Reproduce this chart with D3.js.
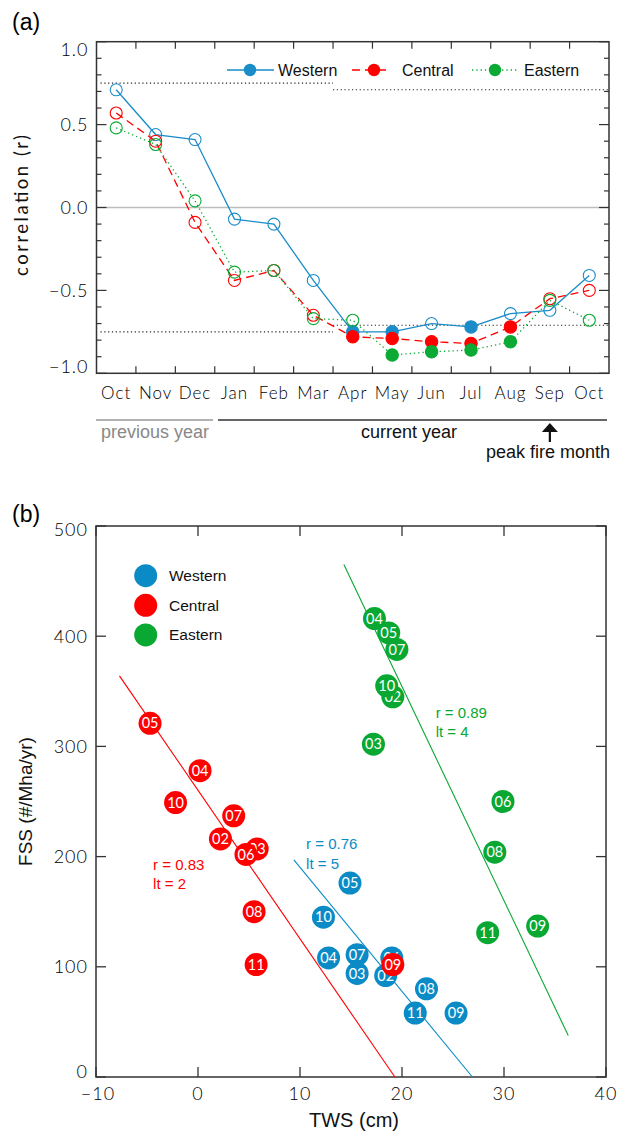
<!DOCTYPE html>
<html><head><meta charset="utf-8">
<script src="https://cdn.jsdelivr.net/npm/d3@7/dist/d3.min.js"></script>
<style>
html,body{margin:0;padding:0;background:#fff;}
svg{display:block;}
.tk{font-family:Lato,"Open Sans",sans-serif;font-weight:300;}
.hv{font-family:"Liberation Sans",Arial,sans-serif;}
</style></head>
<body>
<svg id="c" width="624" height="1133"></svg>
<script>
// ---------- Panel (a) data ----------
const months = ["Oct","Nov","Dec","Jan","Feb","Mar","Apr","May","Jun","Jul","Aug","Sep","Oct"];
const sigLevel = [0.75,0.75,0.75,0.75,0.75,0.75,0.71,0.71,0.71,0.71,0.71,0.71,0.71];
const western = [0.71,0.44,0.41,-0.07,-0.10,-0.44,-0.75,-0.75,-0.70,-0.72,-0.64,-0.62,-0.41];
const central = [0.57,0.40,-0.09,-0.44,-0.38,-0.65,-0.78,-0.79,-0.81,-0.82,-0.72,-0.55,-0.50];
const eastern = [0.48,0.38,0.04,-0.39,-0.38,-0.67,-0.68,-0.89,-0.87,-0.86,-0.81,-0.56,-0.68];
const corrTicks = [-1.0,-0.5,0.0,0.5,1.0];
const peakMonthIndex = 11;

// ---------- Panel (b) data ----------
const regions = ["Western","Central","Eastern"];
const westernYears = ["02","03","04","05","06","07","08","09","10","11"];
const westernTWS = [18.4,15.6,12.8,14.9,19.0,15.6,22.4,25.3,12.3,21.3];
const westernFSS = [92,94,108,176,108,111,80,58,145,58];
const centralYears = ["02","03","04","05","06","07","08","09","10","11"];
const centralTWS = [2.2,5.8,0.2,-4.7,4.7,3.5,5.5,19.1,-2.2,5.7];
const centralFSS = [216,207,278,321,202,237,150,102,249,102];
const easternYears = ["02","03","04","05","06","07","08","09","10","11"];
const easternTWS = [19.1,17.2,17.3,18.7,29.9,19.5,29.1,33.3,18.5,28.4];
const easternFSS = [345,302,416,403,250,388,204,137,355,131];
// fitted lines: [tws0, fss0, tws1, fss1]
const westernFit = [9.4,197,26.9,0];
const centralFit = [-7.7,364,19.3,0];
const easternFit = [14.3,465,36.3,37.6];
const fitR = ["0.76","0.83","0.89"];
const fitLt = ["5","2","4"];
const twsTicks = [-10,0,10,20,30,40];
const fssTicks = [0,100,200,300,400,500];

const colA = {Western:"#1a8cc8", Central:"#ff0000", Eastern:"#0aaa35"};
const colB = {Western:"#0a8bc6", Central:"#ff0000", Eastern:"#08a832"};

const svg = d3.select("#c");

// ================= Panel (a) =================
const ax = {l:96.5, r:609, t:41.7, b:373.3};
const x = d3.scaleBand().domain(d3.range(months.length)).range([ax.l, ax.r]).paddingInner(0).paddingOuter(0);
const xc = i => x(i) + x.bandwidth()/2;
const y = d3.scaleLinear().domain([-1,1]).range([ax.b, ax.t]);
const ga = svg.append("g");

svg.append("text").attr("class","hv").attr("x",12).attr("y",30).attr("font-size",23).attr("fill","#000").text("(a)");

// zero line
ga.append("line").attr("x1",ax.l).attr("x2",ax.r).attr("y1",y(0)).attr("y2",y(0))
  .attr("stroke","#bdbdbd").attr("stroke-width",1.6);

// significance dotted lines
const sigSegs = [];
let s0 = 0;
for (let i=1;i<=sigLevel.length;i++){
  if (i===sigLevel.length || sigLevel[i]!==sigLevel[s0]){ sigSegs.push({a:s0,b:i-1,v:sigLevel[s0]}); s0=i; }
}
sigSegs.forEach((sg,k)=>{
  const x1 = k===0 ? ax.l+4 : x(sg.a);
  const x2 = sg.b===months.length-1 ? ax.r : x(sg.b)+x.bandwidth();
  [1,-1].forEach(sgn=>{
    ga.append("line").attr("x1",x1).attr("x2",x2).attr("y1",y(sgn*sg.v)).attr("y2",y(sgn*sg.v))
      .attr("stroke","#222").attr("stroke-width",1.1).attr("stroke-dasharray","1.2,2.6");
  });
});

// frame
ga.append("rect").attr("x",ax.l).attr("y",ax.t).attr("width",ax.r-ax.l).attr("height",ax.b-ax.t)
  .attr("fill","none").attr("stroke","#333").attr("stroke-width",1.5);

// x ticks at month boundaries (bottom and top)
d3.range(1,months.length).forEach(i=>{
  const xx = x(i);
  ga.append("line").attr("x1",xx).attr("x2",xx).attr("y1",ax.b).attr("y2",ax.b-7).attr("stroke","#333").attr("stroke-width",1.2);
  ga.append("line").attr("x1",xx).attr("x2",xx).attr("y1",ax.t).attr("y2",ax.t+7).attr("stroke","#333").attr("stroke-width",1.2);
});
// y ticks: minor every 0.1, major each label
d3.range(-10,11).forEach(k=>{
  const v = k/10, yy = y(v);
  const major = (k%5===0);
  const len = major?10:5;
  ga.append("line").attr("x1",ax.l).attr("x2",ax.l+len).attr("y1",yy).attr("y2",yy).attr("stroke","#333").attr("stroke-width",1.2);
  ga.append("line").attr("x1",ax.r).attr("x2",ax.r-len).attr("y1",yy).attr("y2",yy).attr("stroke","#333").attr("stroke-width",1.2);
});
// y tick labels
corrTicks.forEach(v=>{
  const shift = v===1 ? 8 : (v===-1 ? -7 : 0);
  ga.append("text").attr("class","tk").attr("x",ax.l-8).attr("y",y(v)+shift).attr("dy","0.35em")
    .attr("text-anchor","end").attr("font-size",18).attr("letter-spacing",1).attr("fill","#000")
    .text(d3.format(".1f")(v).replace("-","\u2212"));
});
// x tick labels
months.forEach((m,i)=>{
  ga.append("text").attr("class","tk").attr("x",xc(i)).attr("y",393).attr("dy","0.35em")
    .attr("text-anchor","middle").attr("font-size",17).attr("letter-spacing",1).attr("fill","#000").text(m);
});
// y label
ga.append("text").attr("class","tk").attr("transform",`translate(28,${(ax.t+ax.b)/2 - 2}) rotate(-90)`)
  .attr("text-anchor","middle").attr("font-size",18.5).style("font-weight",400).attr("fill","#111").attr("textLength",141).attr("lengthAdjust","spacing")
  .text("correlation (r)");

// series
const seriesA = [
  {name:"Western", vals:western, dash:null},
  {name:"Central", vals:central, dash:"8,5"},
  {name:"Eastern", vals:eastern, dash:"1.3,3"}
];
const lineGen = d3.line().x((d,i)=>xc(i)).y(d=>y(d));
seriesA.forEach(s=>{
  ga.append("path").attr("d",lineGen(s.vals)).attr("fill","none").attr("stroke",colA[s.name])
    .attr("stroke-width",1.3).attr("stroke-dasharray",s.dash);
  s.vals.forEach((v,i)=>{
    const filled = Math.abs(v) > sigLevel[i];
    ga.append("circle").attr("cx",xc(i)).attr("cy",y(v)).attr("r",filled?6.2:6)
      .attr("fill",filled?colA[s.name]:"none").attr("stroke",colA[s.name]).attr("stroke-width",1.1);
  });
});

// legend (a)
const legA = [{name:"Western",x0:227,x1:274,cx:250,tx:278},{name:"Central",x0:352,x1:391,cx:374,tx:402},{name:"Eastern",x0:472,x1:518,cx:495,tx:524}];
legA.forEach((l,k)=>{
  const s = seriesA[k];
  ga.append("line").attr("x1",l.x0).attr("x2",l.x1).attr("y1",70).attr("y2",70)
    .attr("stroke",colA[l.name]).attr("stroke-width",1.3).attr("stroke-dasharray",s.dash);
  ga.append("circle").attr("cx",l.cx).attr("cy",70).attr("r",6.2).attr("fill",colA[l.name]);
  ga.append("text").attr("class","hv").attr("x",l.tx).attr("y",70).attr("dy","0.35em").attr("font-size",16).attr("fill","#111").text(l.name);
});

// period annotation
ga.append("line").attr("x1",96).attr("x2",213).attr("y1",420).attr("y2",420).attr("stroke","#999").attr("stroke-width",1.5);
ga.append("line").attr("x1",218).attr("x2",607).attr("y1",420).attr("y2",420).attr("stroke","#333").attr("stroke-width",1.5);
ga.append("text").attr("class","hv").attr("x",155).attr("y",432).attr("dy","0.35em").attr("text-anchor","middle")
  .attr("font-size",18).attr("fill","#888").text("previous year");
ga.append("text").attr("class","hv").attr("x",409).attr("y",432).attr("dy","0.35em").attr("text-anchor","middle")
  .attr("font-size",18).attr("fill","#111").text("current year");
const ax0 = xc(peakMonthIndex);
ga.append("line").attr("x1",ax0).attr("x2",ax0).attr("y1",428).attr("y2",442).attr("stroke","#111").attr("stroke-width",2.2);
ga.append("path").attr("d",`M${ax0-8},${432} L${ax0},${423} L${ax0+8},${432} Z`).attr("fill","#111");
ga.append("text").attr("class","hv").attr("x",548).attr("y",451.5).attr("dy","0.35em").attr("text-anchor","middle")
  .attr("font-size",18).attr("fill","#111").text("peak fire month");

// ================= Panel (b) =================
const bx = {l:96, r:606, t:526, b:1077};
const X = d3.scaleLinear().domain([-10,40]).range([bx.l,bx.r]);
const Y = d3.scaleLinear().domain([0,500]).range([bx.b,bx.t]);
const gb = svg.append("g");

svg.append("text").attr("class","hv").attr("x",12).attr("y",522).attr("font-size",23).attr("fill","#000").text("(b)");

gb.append("rect").attr("x",bx.l).attr("y",bx.t).attr("width",bx.r-bx.l).attr("height",bx.b-bx.t)
  .attr("fill","none").attr("stroke","#333").attr("stroke-width",1.5);
twsTicks.forEach(v=>{
  const xx = X(v);
  gb.append("line").attr("x1",xx).attr("x2",xx).attr("y1",bx.b).attr("y2",bx.b-10).attr("stroke","#333").attr("stroke-width",1.3);
  gb.append("line").attr("x1",xx).attr("x2",xx).attr("y1",bx.t).attr("y2",bx.t+10).attr("stroke","#333").attr("stroke-width",1.3);
  gb.append("text").attr("class","tk").attr("x",xx+(v===-10?2:0)).attr("y",1094).attr("dy","0.35em").attr("text-anchor","middle")
    .attr("font-size",18).attr("letter-spacing",1).attr("fill","#000").text(String(v).replace("-","\u2212"));
});
fssTicks.forEach(v=>{
  const yy = Y(v);
  gb.append("line").attr("x1",bx.l).attr("x2",bx.l+10).attr("y1",yy).attr("y2",yy).attr("stroke","#333").attr("stroke-width",1.3);
  gb.append("line").attr("x1",bx.r).attr("x2",bx.r-10).attr("y1",yy).attr("y2",yy).attr("stroke","#333").attr("stroke-width",1.3);
  const shift = v===500?4:(v===0?-5:0);
  gb.append("text").attr("class","tk").attr("x",88).attr("y",yy+shift).attr("dy","0.35em").attr("text-anchor","end")
    .attr("font-size",18).attr("letter-spacing",1).attr("fill","#000").text(v);
});
gb.append("text").attr("class","hv").attr("x",(bx.l+bx.r)/2+3).attr("y",1120).attr("dy","0.35em").attr("text-anchor","middle")
  .attr("font-size",20).attr("fill","#111").text("TWS (cm)");
gb.append("text").attr("class","hv").attr("transform",`translate(32,${(bx.t+bx.b)/2}) rotate(-90)`)
  .attr("text-anchor","middle").attr("font-size",19).attr("fill","#111").text("FSS (#/Mha/yr)");

const seriesB = [
  {name:"Western", years:westernYears, tws:westernTWS, fss:westernFSS, fit:westernFit},
  {name:"Central", years:centralYears, tws:centralTWS, fss:centralFSS, fit:centralFit},
  {name:"Eastern", years:easternYears, tws:easternTWS, fss:easternFSS, fit:easternFit}
];
// fit lines
seriesB.forEach(s=>{
  gb.append("line").attr("x1",X(s.fit[0])).attr("y1",Y(s.fit[1])).attr("x2",X(s.fit[2])).attr("y2",Y(s.fit[3]))
    .attr("stroke",colB[s.name]).attr("stroke-width",1.1);
});
// points
seriesB.forEach(s=>{
  s.years.forEach((yr,i)=>{
    const g = gb.append("g").attr("transform",`translate(${X(s.tws[i])},${Y(s.fss[i])})`);
    g.append("circle").attr("r",11.5).attr("fill",colB[s.name]);
    g.append("text").attr("class","tk").attr("text-anchor","middle").attr("dy","0.36em")
      .attr("font-size",14.5).style("font-weight",400).attr("fill","#fff").text(yr);
  });
});
// annotations
const annPos = [{x:10.6,y1:206.5,y2:189},{x:-4.4,y1:188,y2:171},{x:23.3,y1:326,y2:308.5}];
seriesB.forEach((s,k)=>{
  const a = annPos[k];
  gb.append("text").attr("class","hv").attr("x",X(a.x)).attr("y",Y(a.y1)).attr("font-size",15).attr("fill",colB[s.name]).text("r = "+fitR[k]);
  gb.append("text").attr("class","hv").attr("x",X(a.x)).attr("y",Y(a.y2)).attr("font-size",15).attr("fill",colB[s.name]).text("lt = "+fitLt[k]);
});
// legend (b)
regions.forEach((r,k)=>{
  const yy = 575.7 + k*29.6;
  gb.append("circle").attr("cx",145.7).attr("cy",yy).attr("r",11.5).attr("fill",colB[r]);
  gb.append("text").attr("class","hv").attr("x",169).attr("y",yy).attr("dy","0.35em").attr("font-size",15.5).attr("fill","#111").text(r);
});
</script>
</body></html>
